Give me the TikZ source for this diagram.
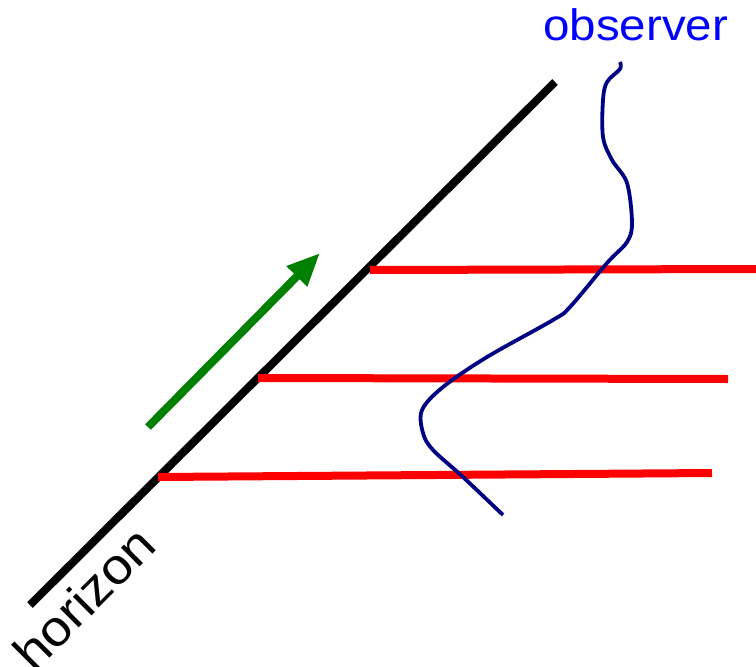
\documentclass[tikz,border=0pt]{standalone}
\usepackage{fontspec}
\setmainfont{Liberation Sans}
\usetikzlibrary{arrows.meta}
\definecolor{obsblue}{RGB}{0,0,255}
\definecolor{navyc}{RGB}{0,0,130}
\definecolor{greenc}{RGB}{0,128,0}
\begin{document}
\begin{tikzpicture}[x=1pt,y=-1pt,
  horizonline/.style={line width=8pt,black},
  redline/.style={line width=8pt,red},
  worldline/.style={line width=3.8pt,navyc,line join=round},
  bigtext/.style={inner sep=0pt,font=\fontsize{44}{44}\selectfont}
]
\useasboundingbox (0,0) rectangle (756,667);
% horizon
\coordinate (h0) at (30,605);
\coordinate (h1) at (555,82);
\draw[horizonline] (h0) -- (h1);
% red lines
\coordinate (r1a) at (370,270); \coordinate (r1b) at (756,269);
\coordinate (r2a) at (258,378); \coordinate (r2b) at (728,379);
\coordinate (r3a) at (158,477); \coordinate (r3b) at (712,473);
\draw[redline] (r1a) -- (r1b);
\draw[redline] (r2a) -- (r2b);
\draw[redline] (r3a) -- (r3b);
% green arrow
\coordinate (g0) at (148,427);
\coordinate (g1) at (320,253);
\draw[line width=8pt,greenc,-{Triangle[length=33pt,width=27pt]}] (g0) -- (g1);
% observer worldline
\draw[worldline] plot[smooth,tension=0.55] coordinates {(620,62) (620,69) (607,82) (603,100) (603,137) (612,160) (627,183) (632,223) (627,242) (607,263) (570,307) (553,320) (487,357) (443,387) (422,410) (423,433) (433,450) (463,477) (503,515)};
% labels
\node[bigtext,text=obsblue,anchor=base west,xscale=1.08] (obs) at (543,40) {observer};
\node[inner sep=0pt,font=\fontsize{50}{50}\selectfont,rotate=45,xscale=1.08] (hor) at (84,598) {horizon};
\end{tikzpicture}
\end{document}
